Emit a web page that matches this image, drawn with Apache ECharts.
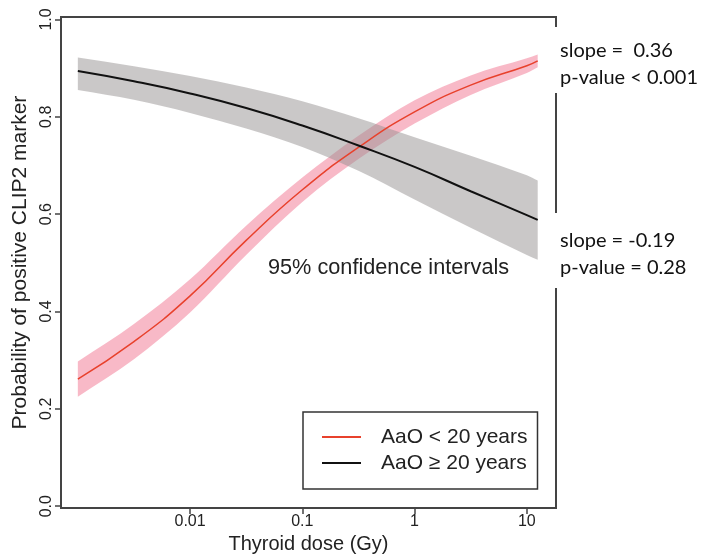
<!DOCTYPE html>
<html>
<head>
<meta charset="utf-8">
<script src="https://cdn.jsdelivr.net/npm/echarts@6/dist/echarts.min.js"></script>
<style>
html,body{margin:0;padding:0;background:#fff;}
#chart{width:703px;height:559px;}
</style>
</head>
<body>
<div id="chart"></div>
<script>
// Thyroid dose (Gy)
const doses = [0.001, 0.00316, 0.01, 0.0316, 0.1, 0.316, 1, 3.16, 10, 12.5];
// AaO < 20 years
const youngFit   = [0.261, 0.338, 0.432, 0.546, 0.650, 0.737, 0.810, 0.865, 0.905, 0.915];
const youngLower = [0.225, 0.302, 0.398, 0.516, 0.625, 0.713, 0.786, 0.845, 0.890, 0.902];
const youngUpper = [0.297, 0.374, 0.466, 0.576, 0.675, 0.761, 0.834, 0.885, 0.920, 0.928];
// AaO >= 20 years
const oldFit   = [0.894, 0.873, 0.848, 0.818, 0.782, 0.741, 0.697, 0.647, 0.598, 0.588];
const oldLower = [0.855, 0.835, 0.808, 0.776, 0.738, 0.689, 0.630, 0.572, 0.516, 0.506];
const oldUpper = [0.922, 0.904, 0.884, 0.860, 0.832, 0.797, 0.758, 0.720, 0.680, 0.669];

const xTickDoses = [0.01, 0.1, 1, 10];
const xTickLabels = ['0.01', '0.1', '1', '10'];
const yTicks = [0, 0.2, 0.4, 0.6, 0.8, 1.0];
const seriesNames = ['AaO < 20 years', 'AaO \u2265 20 years'];

const lx = doses.map(d => Math.log10(d));
const pts = arr => arr.map((v, i) => [lx[i], v]);
const bandRows = (lo, up) => lo.map((v, i) => [lx[i], v, up[i]]);
const xTickPos = xTickDoses.map(d => Math.log10(d));

// smooth (cubic Hermite) path through pixel points
function hermite(P, start) {
  const n = P.length;
  const m = P.map((p, i) => {
    const a = P[Math.max(0, i - 1)], b = P[Math.min(n - 1, i + 1)];
    return (b[1] - a[1]) / (b[0] - a[0]);
  });
  let d = (start ? 'M' : 'L') + P[0][0] + ',' + P[0][1];
  for (let i = 0; i < n - 1; i++) {
    const dx = P[i + 1][0] - P[i][0];
    d += 'C' + (P[i][0] + dx / 3) + ',' + (P[i][1] + m[i] * dx / 3) + ' ' +
         (P[i + 1][0] - dx / 3) + ',' + (P[i + 1][1] - m[i + 1] * dx / 3) + ' ' +
         P[i + 1][0] + ',' + P[i + 1][1];
  }
  return d;
}

function bandRender(lo, up, fill) {
  return function (params, api) {
    if (params.dataIndex !== 0) return null;
    const U = lx.map((x, i) => api.coord([x, up[i]]));
    const L = lx.map((x, i) => api.coord([x, lo[i]])).reverse();
    const d = hermite(U, true) + hermite(L, false) + 'Z';
    return {type: 'path', shape: {pathData: d}, style: {fill: fill}, silent: true};
  };
}

const FONT = '"Liberation Sans", Arial, sans-serif';
const ANN = '20px Lato, "Open Sans", sans-serif';

const chart = echarts.init(document.getElementById('chart'), null, {renderer: 'canvas'});
chart.setOption({
  animation: false,
  backgroundColor: '#fff',
  grid: {left: 61, right: 147, top: 17, bottom: 47, show: true, borderColor: '#444', borderWidth: 2, backgroundColor: 'transparent'},
  xAxis: {
    type: 'value', min: -3.15, max: 1.26,
    axisLine: {show: false, onZero: false},
    splitLine: {show: false},
    axisTick: {show: true, inside: false, length: 6, lineStyle: {color: '#444', width: 1.5}, customValues: xTickPos},
    axisLabel: {
      customValues: xTickPos, margin: 5,
      fontFamily: FONT, fontSize: 16, color: '#222',
      formatter: v => { const i = xTickPos.findIndex(t => Math.abs(t - v) < 1e-6); return i >= 0 ? xTickLabels[i] : ''; }
    },
    name: 'Thyroid dose (Gy)', nameLocation: 'middle', nameGap: 24,
    nameTextStyle: {fontFamily: FONT, fontSize: 20, color: '#222'}
  },
  yAxis: {
    type: 'value', min: -0.004, max: 1.005,
    axisLine: {show: false, onZero: false},
    splitLine: {show: false},
    axisTick: {show: true, inside: false, length: 6, lineStyle: {color: '#444', width: 1.5}, customValues: yTicks},
    axisLabel: {
      customValues: yTicks, rotate: 90, margin: 6,
      fontFamily: FONT, fontSize: 16, color: '#222',
      formatter: v => v.toFixed(1)
    },
    name: 'Probability of positive CLIP2 marker', nameLocation: 'middle', nameGap: 30,
    nameTextStyle: {fontFamily: FONT, fontSize: 21, color: '#222'}
  },
  legend: {
    show: true, orient: 'vertical', left: 303, top: 412,
    data: seriesNames,
    backgroundColor: '#fff', borderColor: '#333', borderWidth: 1.5,
    padding: [12, 10, 13, 19],
    itemWidth: 39, itemHeight: 2, itemGap: 0, icon: 'rect',
    textStyle: {fontFamily: FONT, fontSize: 21, color: '#222', lineHeight: 26, padding: [0, 0, 0, 15]},
    selectedMode: false
  },
  series: [
    {type: 'custom', name: 'ci-young', data: bandRows(youngLower, youngUpper), renderItem: bandRender(youngLower, youngUpper, 'rgba(240,100,130,0.45)'), z: 1, silent: true, clip: true},
    {type: 'custom', name: 'ci-old', data: bandRows(oldLower, oldUpper), renderItem: bandRender(oldLower, oldUpper, 'rgba(150,145,145,0.5)'), z: 2, silent: true, clip: true},
    {type: 'line', name: seriesNames[0], data: pts(youngFit), smooth: true, symbol: 'none', color: '#e8412c', lineStyle: {color: '#e8412c', width: 1.5}, z: 3},
    {type: 'line', name: seriesNames[1], data: pts(oldFit), smooth: true, symbol: 'none', color: '#111', lineStyle: {color: '#111', width: 2}, z: 4}
  ],
  graphic: [
    {type: 'text', left: 268, top: 257, z: 50, style: {text: '95% confidence intervals', font: '21.7px ' + FONT, fill: '#222'}},
    {type: 'rect', left: 549, top: 27, z: 90, shape: {width: 154, height: 66}, style: {fill: '#fff'}},
    {type: 'rect', left: 549, top: 213, z: 90, shape: {width: 154, height: 75}, style: {fill: '#fff'}},
    {type: 'text', left: 560, top: 41, z: 100, style: {text: 'slope =  0.36', font: ANN, fill: '#111'}},
    {type: 'text', left: 560, top: 68, z: 100, style: {text: 'p-value < 0.001', font: ANN, fill: '#111'}},
    {type: 'text', left: 560, top: 231, z: 100, style: {text: 'slope = -0.19', font: ANN, fill: '#111'}},
    {type: 'text', left: 560, top: 258, z: 100, style: {text: 'p-value = 0.28', font: ANN, fill: '#111'}}
  ]
});
</script>
</body>
</html>
